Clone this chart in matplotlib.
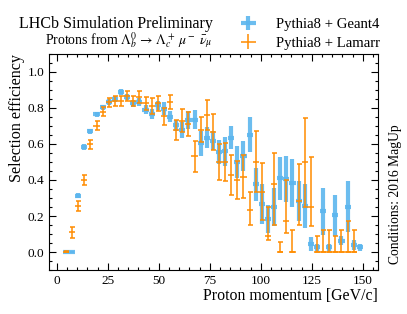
import matplotlib
matplotlib.use('Agg')
import matplotlib.pyplot as plt
from matplotlib.ticker import MultipleLocator

plt.rcParams['font.family'] = ['Liberation Serif', 'DejaVu Serif']
plt.rcParams['mathtext.fontset'] = 'stix'

# ---------------- data ----------------
bins_geant = [4.5, 7.5, 10.5, 13.5, 16.5, 19.5, 22.5, 25.5, 28.5, 31.5, 34.5, 37.5,
              40.5, 43.5, 46.5, 49.5, 52.5, 55.5, 58.5, 61.5, 64.5, 67.5, 70.5, 73.5,
              76.5, 79.5, 82.5, 85.5, 88.5, 91.5, 94.5, 97.5, 100.5, 103.5, 106.5,
              109.5, 112.5, 115.5, 118.5, 121.5, 124.5, 127.5, 130.5, 133.5, 136.5,
              139.5, 142.5, 145.5, 148.5]
eff_geant = [0.0, 0.0, 0.313, 0.583, 0.671, 0.765, 0.803, 0.833, 0.852, 0.889, 0.86, 0.825,
             0.833, 0.791, 0.767, 0.815, 0.797, 0.752, 0.704, 0.679, 0.736, 0.736, 0.603, 0.636,
             0.619, 0.557, 0.56, 0.636, 0.501, 0.531, 0.652, 0.375, 0.267, 0.183, 0.252,
             0.41, 0.405, 0.385, 0.283, 0.254, 0.046, 0.027, 0.225, 0.027, 0.203,
             0.062, 0.252, 0.04, 0.027]
err_geant = [0.005, 0.005, 0.015, 0.015, 0.015, 0.015, 0.015, 0.015, 0.017, 0.017, 0.018, 0.02,
             0.02, 0.023, 0.028, 0.024, 0.035, 0.032, 0.032, 0.045, 0.05, 0.055, 0.07, 0.06,
             0.055, 0.066, 0.08, 0.065, 0.088, 0.083, 0.097, 0.094, 0.11, 0.078, 0.105,
             0.12, 0.13, 0.134, 0.11, 0.122, 0.04, 0.02, 0.13, 0.02, 0.116,
             0.025, 0.142, 0.028, 0.02]

bins_lamarr = [4.5, 7.5, 10.5, 13.5, 16.5, 19.5, 22.5, 25.5, 28.5, 31.5, 34.5, 37.5,
               40.5, 43.5, 46.5, 49.5, 52.5, 55.5, 58.5, 61.5, 64.5, 67.5, 70.5, 73.5,
               76.5, 79.5, 82.5, 85.5, 88.5, 91.5, 94.5, 97.5, 100.5, 103.5, 106.5,
               109.5, 112.5, 115.5, 118.5, 121.5, 124.5, 127.5, 130.5, 133.5, 136.5,
               139.5, 142.5, 145.5]
eff_lamarr = [0.0, 0.109, 0.258, 0.40, 0.598, 0.702, 0.778, 0.832, 0.839, 0.839, 0.867, 0.839,
              0.862, 0.825, 0.813, 0.825, 0.753, 0.833, 0.677, 0.73, 0.712, 0.531, 0.68, 0.76,
              0.668, 0.501, 0.501, 0.428, 0.402, 0.418, 0.232, 0.501, 0.336, 0.09, 0.376,
              0.0, 0.17, 0.0, 0.286, 0.50, 0.252, 0.0, 0.0, 0.0, 0.0,
              0.0, 0.0, 0.0]
err_lamarr_lo = [0.0, 0.032, 0.028, 0.028, 0.025, 0.025, 0.025, 0.025, 0.028, 0.03, 0.03, 0.03,
                 0.035, 0.037, 0.045, 0.043, 0.048, 0.037, 0.055, 0.063, 0.065, 0.086, 0.07, 0.085,
                 0.1, 0.1, 0.105, 0.11, 0.106, 0.12, 0.08, 0.17, 0.16, 0.022, 0.225,
                 0.0, 0.065, 0.0, 0.135, 0.248, 0.11, 0.0, 0.0, 0.0, 0.0,
                 0.0, 0.0, 0.0]
err_lamarr_hi = [0.005, 0.032, 0.028, 0.028, 0.025, 0.025, 0.025, 0.025, 0.028, 0.03, 0.03, 0.03,
                 0.035, 0.037, 0.045, 0.043, 0.048, 0.037, 0.055, 0.063, 0.065, 0.086, 0.07, 0.085,
                 0.1, 0.1, 0.105, 0.11, 0.106, 0.12, 0.1, 0.17, 0.16, 0.162, 0.175,
                 0.053, 0.23, 0.123, 0.203, 0.247, 0.278, 0.09, 0.123, 0.123, 0.09,
                 0.123, 0.175, 0.123]
bin_half_width = 1.5

# ---------------- figure ----------------
fig = plt.figure(figsize=(4.07, 3.14), dpi=100)
ax = fig.add_axes([0.1204, 0.1401, 0.8083, 0.688])

blue = '#5cb6ee'
orange = '#ff8c00'

h1 = ax.errorbar(bins_geant, eff_geant, yerr=err_geant, xerr=bin_half_width,
                 fmt='none', ecolor=blue, elinewidth=3.0, capsize=0, alpha=0.9,
                 label='Pythia8 + Geant4', zorder=2)
h2 = ax.errorbar(bins_lamarr, eff_lamarr, yerr=[err_lamarr_lo, err_lamarr_hi],
                 xerr=bin_half_width, fmt='none', ecolor=orange, elinewidth=1.1,
                 capsize=1.8, capthick=1.1, label='Pythia8 + Lamarr', zorder=3)
# caps only on the vertical error bars
for cl in h2[1]:
    if cl.get_marker() == '|':
        cl.set_visible(False)

ax.set_xlim(-3.8, 157.4)
ax.set_ylim(-0.1, 1.1)
ax.xaxis.set_major_locator(MultipleLocator(25))
ax.xaxis.set_minor_locator(MultipleLocator(5))
ax.yaxis.set_major_locator(MultipleLocator(0.2))
ax.yaxis.set_minor_locator(MultipleLocator(0.05))
ax.yaxis.set_major_formatter(matplotlib.ticker.FormatStrFormatter('%.1f'))
ax.tick_params(which='both', direction='in', top=True, right=True, labelsize=9.5, width=0.8)
ax.tick_params(which='major', length=4.8)
ax.tick_params(which='minor', length=2.4)
for s in ax.spines.values():
    s.set_linewidth(0.8)

ax.set_xlabel('Proton momentum [GeV/c]', loc='right', fontsize=11.4, labelpad=0.5)
ax.set_ylabel('Selection efficiency', loc='top', fontsize=11.6, labelpad=2)

fig.text(0.523, 0.911, 'LHCb Simulation Preliminary', ha='right', va='baseline', fontsize=11.5)
fig.text(0.523, 0.858, r'Protons from $\Lambda_b^0 \,\rightarrow\, \Lambda_c^+\; \mu^-\; \bar{\nu}_\mu$',
         ha='right', va='baseline', fontsize=9.9)
fig.text(0.972, 0.16, 'Conditions: 2016 MagUp', rotation=90, ha='center', va='bottom', fontsize=9.8)

fig.legend(handles=[h1, h2], labels=['Pythia8 + Geant4', 'Pythia8 + Lamarr'],
           loc='upper left', bbox_to_anchor=(0.592, 0.943), frameon=False, fontsize=10.6,
           handlelength=1.0, handletextpad=1.4, labelspacing=0.35, borderpad=0,
           borderaxespad=0)

fig.savefig('out.png', dpi=100)
